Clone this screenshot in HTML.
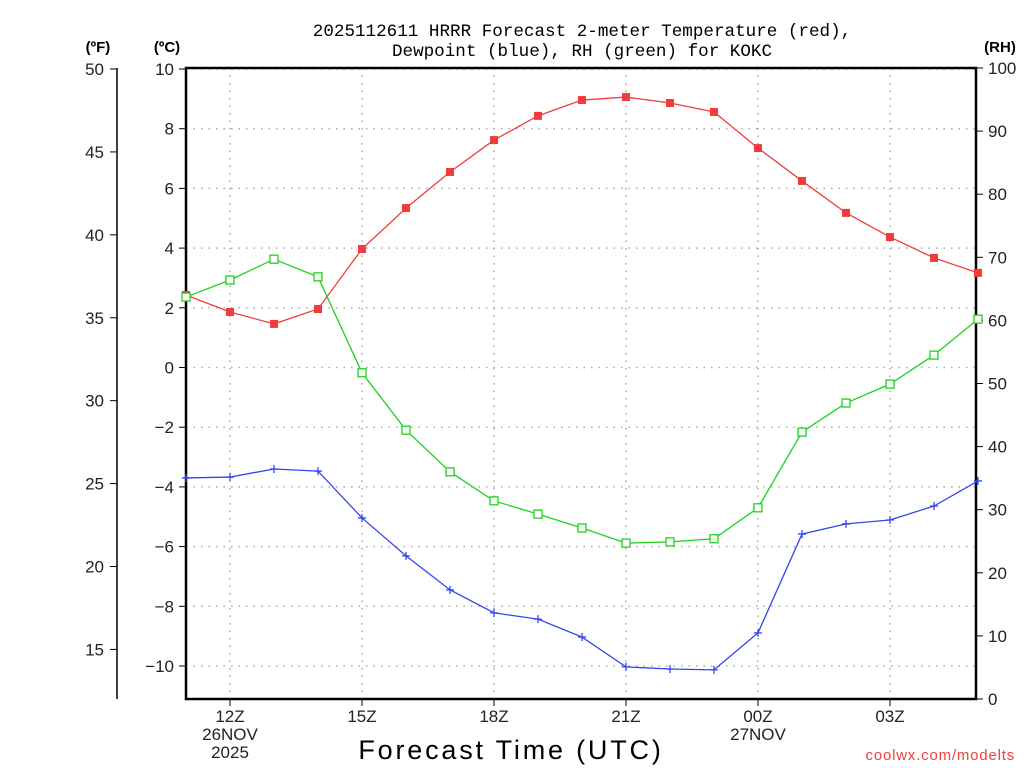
<!DOCTYPE html>
<html><head><meta charset="utf-8"><style>
body{margin:0;background:#fff;}
svg{display:block;font-family:"Liberation Sans","DejaVu Sans",sans-serif;}
</style></head><body>
<svg id="c" width="1024" height="768" viewBox="0 0 1024 768">
<text x="582" y="36" font-size="17.6" font-family="Liberation Mono, monospace" text-anchor="middle">2025112611 HRRR Forecast 2-meter Temperature (red),</text>
<text x="582" y="56" font-size="17.6" font-family="Liberation Mono, monospace" text-anchor="middle">Dewpoint (blue), RH (green) for KOKC</text>
<text x="98" y="52" font-size="15" font-weight="bold" text-anchor="middle">(ºF)</text>
<text x="167" y="52" font-size="15" font-weight="bold" text-anchor="middle">(ºC)</text>
<text x="1000" y="52" font-size="15" font-weight="bold" text-anchor="middle">(RH)</text>
<text x="511" y="759" font-size="27" text-anchor="middle" letter-spacing="2.8">Forecast Time (UTC)</text>
<text x="1015" y="760" font-size="15" fill="#f04040" text-anchor="end" letter-spacing="0.8">coolwx.com/modelts</text>
<g id="grid"></g><g id="axes"></g><g id="series"></g>
</svg>
<script>
const hours = ["11Z","12Z","13Z","14Z","15Z","16Z","17Z","18Z","19Z","20Z","21Z","22Z","23Z","00Z","01Z","02Z","03Z","04Z","05Z"];
const tempC = [2.43,1.86,1.46,1.96,3.97,5.34,6.55,7.62,8.43,8.96,9.06,8.86,8.56,7.35,6.25,5.18,4.37,3.67,3.17];
const dewC = [-3.70,-3.67,-3.40,-3.47,-5.04,-6.31,-7.45,-8.22,-8.43,-9.03,-10.03,-10.10,-10.13,-8.89,-5.58,-5.24,-5.11,-4.64,-3.80];
const rh = [63.7,66.4,69.7,66.9,51.7,42.6,36.0,31.4,29.3,27.1,24.7,24.9,25.4,30.3,42.3,46.9,49.9,54.5,60.2];
const cTicks = [10,8,6,4,2,0,-2,-4,-6,-8,-10];
const fTicks = [50,45,40,35,30,25,20,15];
const rhTicks = [100,90,80,70,60,50,40,30,20,10,0];
const xTickIdx = [1,4,7,10,13,16];
const xTickLabels = [["12Z","26NOV","2025"],["15Z"],["18Z"],["21Z"],["00Z","27NOV"],["03Z"]];

const NS="http://www.w3.org/2000/svg";
const L=186,R=976,T=68,B=699;
const xS=i=>L+i*44;
const yC=c=>69+(10-c)*29.85;
const yF=f=>yC((f-32)/1.8);
const yRH=v=>B-v*(B-T)/100;
function mk(tag,attrs,parent,text){const e=document.createElementNS(NS,tag);for(const k in attrs)e.setAttribute(k,attrs[k]);if(text!==undefined)e.textContent=text;parent.appendChild(e);return e;}
const grid=document.getElementById('grid'),axes=document.getElementById('axes'),ser=document.getElementById('series');
const dot={stroke:"#aaa","stroke-width":1.5,"stroke-dasharray":"1.5,6"};
cTicks.forEach(c=>{const y=yC(c);
 let g=mk('line',Object.assign({x1:L,x2:R,y1:y,y2:y},dot),grid);
 
 
 mk('line',{x1:L-7,x2:L,y1:y,y2:y,stroke:"#000","stroke-width":1},axes);
 let t=mk('text',{x:L-12,y:y+6,"font-size":17,"text-anchor":"end",fill:"#222"},axes,c<0?"\u2212"+(-c):String(c));
 
 
});
xTickIdx.forEach((i,k)=>{const x=xS(i);
 let g=mk('line',Object.assign({x1:x,x2:x,y1:T,y2:B},dot),grid);
 
 
 mk('line',{x1:x,x2:x,y1:B,y2:B+7,stroke:"#000","stroke-width":1},axes);
 xTickLabels[k].forEach((s,j)=>{let t=mk('text',{x:x,y:722+j*18,"font-size":17,"text-anchor":"middle",fill:"#222"},axes,s);
  
  });
});
fTicks.forEach(f=>{const y=yF(f);
 mk('line',{x1:110,x2:117,y1:y,y2:y,stroke:"#000","stroke-width":1},axes);
 let t=mk('text',{x:104,y:y+6,"font-size":17,"text-anchor":"end",fill:"#222"},axes,String(f));
 
 
});
mk('line',{x1:117,x2:117,y1:T,y2:B,stroke:"#000","stroke-width":1.5},axes);
rhTicks.forEach(v=>{const y=yRH(v);
 mk('line',{x1:R,x2:R+7,y1:y,y2:y,stroke:"#000","stroke-width":1},axes);
 let t=mk('text',{x:988,y:y+6,"font-size":17,"text-anchor":"start",fill:"#222"},axes,String(v));
 
 
});
let fr=mk('rect',{x:L,y:T,width:R-L,height:B-T,fill:"none",stroke:"#000","stroke-width":2.5},axes);



function line(vals,yf,color,name){
 const pts=vals.map((v,i)=>xS(i)+","+yf(v)).join(" ");
 const p=mk('polyline',{points:pts,fill:"none",stroke:color,"stroke-width":1.3},ser);
 
 
}
line(tempC,yC,"#f03c3c","temperature");
line(rh,yRH,"#1ed21e","rh");
line(dewC,yC,"#3246f0","dewpoint");
tempC.forEach((v,i)=>{const m=mk('rect',{x:xS(i)-4,y:yC(v)-4,width:8,height:8,fill:"#f03c3c"},ser);
 
 });
rh.forEach((v,i)=>{const m=mk('rect',{x:xS(i)-4,y:yRH(v)-4,width:8,height:8,fill:"#fff",stroke:"#1ed21e","stroke-width":1.3},ser);
 
 });
dewC.forEach((v,i)=>{const x=xS(i),y=yC(v);
 const m=mk('path',{d:`M${x-4},${y}H${x+4}M${x},${y-4}V${y+4}`,stroke:"#3246f0","stroke-width":1.3},ser);
 
 });
</script>
</body></html>
